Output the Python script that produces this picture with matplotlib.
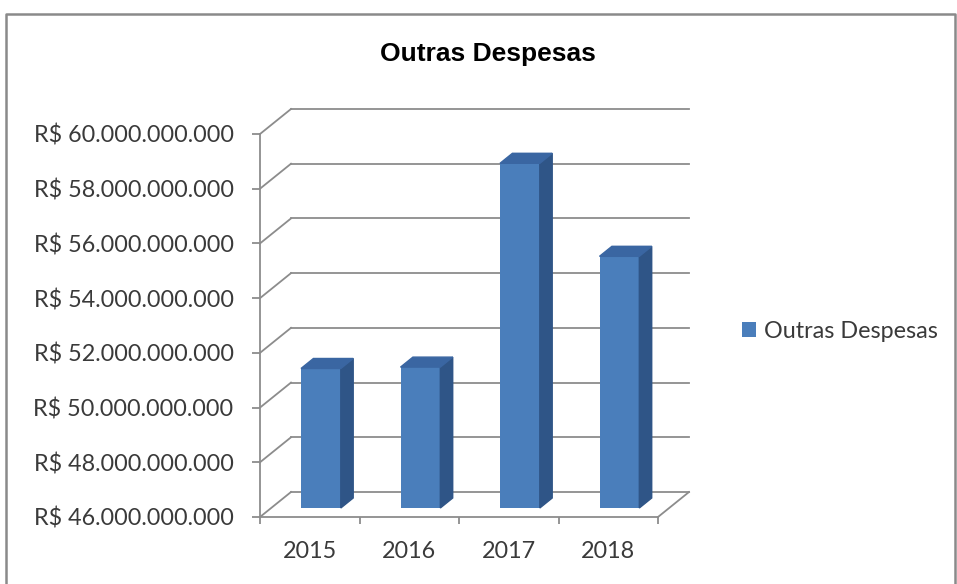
import numpy as np
import matplotlib.pyplot as plt
from matplotlib.lines import Line2D

# data
years = ['2015', '2016', '2017', '2018']
valores = [51.10e9, 51.15e9, 58.60e9, 55.20e9]
y_ticks = [46e9, 48e9, 50e9, 52e9, 54e9, 56e9, 58e9, 60e9]
serie = 'Outras Despesas'

plt.rcParams['font.family'] = ['Lato', 'DejaVu Sans']

W, H, DPI = 957, 584, 100
fig = plt.figure(figsize=(W / DPI, H / DPI), dpi=DPI)
# front plane of the fake 3d box, in pixels
left, right, bottom, top = 260, 658, 517, 134
ax = fig.add_axes([left / W, 1 - bottom / H, (right - left) / W, (bottom - top) / H])

ymin, ymax = y_ticks[0], y_ticks[-1]
ax.set_xlim(-0.5, len(years) - 0.5)
ax.set_ylim(ymin, ymax)

# depth offset (back wall) converted to data units
DX_PX, DY_PX = 31, 25
dxd = DX_PX / (right - left) * len(years)
dyd = DY_PX / (bottom - top) * (ymax - ymin)

grid_c = '#8c8c8c'
lw = 1.3
txt_c = '#3a3a3a'
fs = 16.8

# back wall grid + left wall diagonals
for v in y_ticks:
    ax.plot([-0.5 + dxd, len(years) - 0.5 + dxd], [v + dyd, v + dyd], color=grid_c, lw=lw, clip_on=False, zorder=1)
    ax.plot([-0.5, -0.5 + dxd], [v, v + dyd], color=grid_c, lw=lw, clip_on=False, zorder=1)
# floor right edge
ax.plot([len(years) - 0.5, len(years) - 0.5 + dxd], [ymin, ymin + dyd], color=grid_c, lw=lw, clip_on=False, zorder=1)

# bars (front face sits at depth F0, box depth D)
F0, D = 0.36, 0.40
bw = 0.4
c_front, c_side, c_top = '#4a7ebb', '#2f5587', '#3a66a2'
x = np.arange(len(years))
b0 = ymin + dyd * F0
ax.bar(x + dxd * F0, np.array(valores) - ymin, bottom=b0, width=bw, color=c_front, zorder=3,
       label=serie, clip_on=False)
for xi, v in zip(x, valores):
    t0 = v + dyd * F0
    xl = xi + dxd * F0 - bw / 2
    xr = xl + bw
    ax.fill([xr, xr, xr + dxd * D, xr + dxd * D], [b0, t0, t0 + dyd * D, b0 + dyd * D],
            color=c_side, zorder=3, clip_on=False)
    ax.fill([xl, xr, xr + dxd * D, xl + dxd * D], [t0, t0, t0 + dyd * D, t0 + dyd * D],
            color=c_top, zorder=3, clip_on=False)

# axes
for s in ['top', 'right']:
    ax.spines[s].set_visible(False)
for s in ['left', 'bottom']:
    ax.spines[s].set_color(grid_c)
    ax.spines[s].set_linewidth(lw)

ax.set_yticks(y_ticks)
ax.set_yticklabels(['R$ ' + f'{v:,.0f}'.replace(',', '.') for v in y_ticks])
ax.tick_params(axis='y', length=6, width=lw, color=grid_c, pad=13, labelsize=fs, labelcolor=txt_c)

ax.set_xticks(np.arange(len(years) + 1) - 0.5)
ax.set_xticklabels([])
ax.set_xticks(x, minor=True)
ax.set_xticklabels(years, minor=True)
ax.tick_params(axis='x', which='major', length=5, width=lw, color=grid_c)
ax.tick_params(axis='x', which='minor', length=0, pad=17, labelsize=fs, labelcolor=txt_c)

# title
fig.text(488 / W, 1 - 54 / H, 'Outras Despesas', ha='center', va='center',
         fontsize=19, fontweight='bold', family='Liberation Sans', color='black')

# legend
ax.legend(loc='center left', bbox_to_anchor=(742 / W, 1 - 331 / H), bbox_transform=fig.transFigure,
          frameon=False, handlelength=0.6, handleheight=0.6, handletextpad=0.35, borderpad=0,
          borderaxespad=0, prop={'size': fs}, labelcolor=txt_c)

# outer frame
fig.add_artist(Line2D([6 / W, 6 / W, 955 / W, 955 / W], [0, 1 - 14 / H, 1 - 14 / H, 0],
                      transform=fig.transFigure, color='#8a8a8a', lw=1.8))

fig.savefig('out.png', dpi=DPI)
